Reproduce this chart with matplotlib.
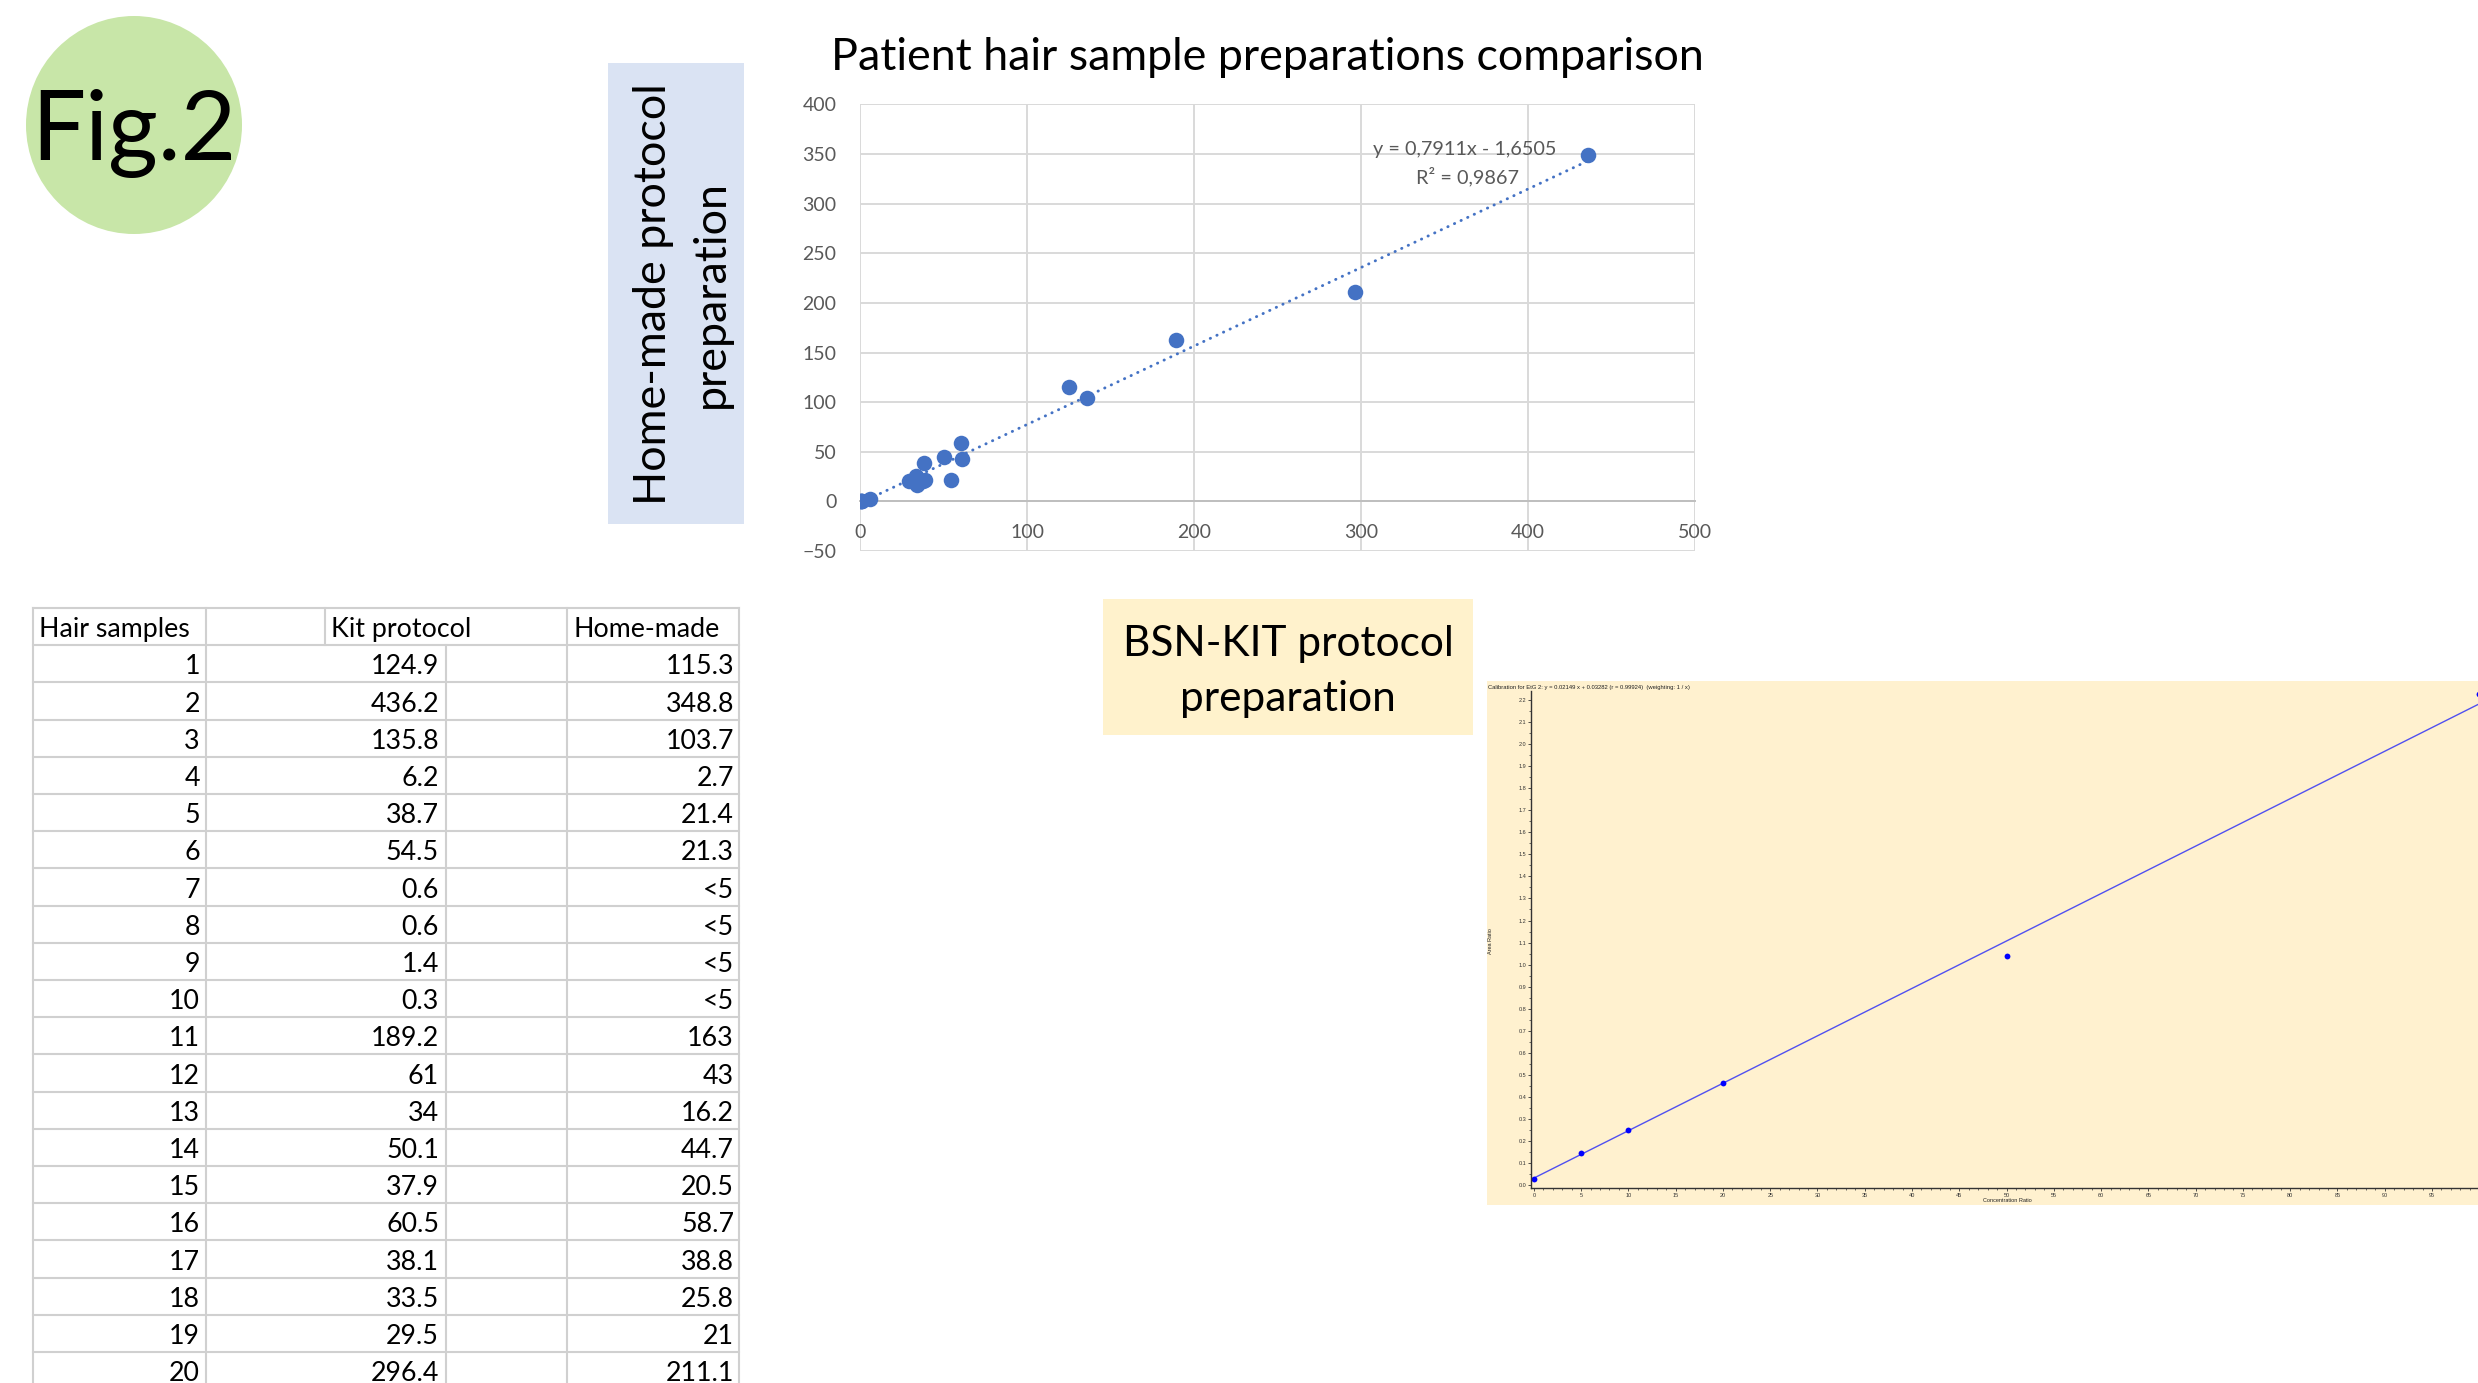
import matplotlib
matplotlib.use("Agg")
import matplotlib.pyplot as plt
import numpy as np
from matplotlib.patches import Ellipse, Rectangle
from matplotlib.ticker import MultipleLocator

plt.rcParams['font.family'] = ['Lato', 'DejaVu Sans']

# --- data -------------------------------------------------------------
sample_ids = list(range(1, 21))
kit_protocol = [124.9, 436.2, 135.8, 6.2, 38.7, 54.5, 0.6, 0.6, 1.4, 0.3,
                189.2, 61, 34, 50.1, 37.9, 60.5, 38.1, 33.5, 29.5, 296.4]
# None = "<5" in the table (plotted as 0, like the spreadsheet does)
home_made = [115.3, 348.8, 103.7, 2.7, 21.4, 21.3, None, None, None, None,
             163, 43, 16.2, 44.7, 20.5, 58.7, 38.8, 25.8, 21, 211.1]
table_headers = ["Hair samples", "Kit protocol", "Home-made"]

trend_slope = 0.7911
trend_intercept = -1.6505
trend_r2 = 0.9867

cal_conc = [0, 5, 10, 20, 50, 100]
cal_ratio = [0.03, 0.145, 0.253, 0.463, 1.04, 2.225]
cal_slope = 0.02149
cal_intercept = 0.03282
cal_r = 0.99924

# --- figure -----------------------------------------------------------
W, H = 2478, 1383
fig = plt.figure(figsize=(W / 100, H / 100), dpi=100)


def px_axes(x0, y0, x1, y1, **kw):
    return fig.add_axes([x0 / W, 1 - y1 / H, (x1 - x0) / W, (y1 - y0) / H], **kw)


# overlay in pixel coords for boxes, table and labels
bg = fig.add_axes([0, 0, 1, 1], zorder=0)
bg.set_xlim(0, W)
bg.set_ylim(H, 0)
bg.axis('off')

# Fig.2 badge
bg.add_patch(Ellipse((134, 125), 216, 218, color='#C8E6A8', lw=0))
bg.text(134, 160, "Fig.2", fontsize=69, ha='center', va='baseline', color='black')

# blue label box
bg.add_patch(Rectangle((608, 63), 136, 461, color='#DAE3F3', lw=0))
bg.text(653, 294, "Home-made protocol", fontsize=32.3, rotation=90, ha='center', va='center')
bg.text(711, 294, "preparation", fontsize=32.3, rotation=90, ha='center', va='center')

# yellow label box
bg.add_patch(Rectangle((1103, 599), 370, 136, color='#FFF2CC', lw=0))
bg.text(1288, 644, "BSN-KIT protocol", fontsize=30.5, ha='center', va='center')
bg.text(1288, 699, "preparation", fontsize=30.5, ha='center', va='center')

# scatter title
bg.text(1267, 57, "Patient hair sample preparations comparison", fontsize=32.2,
        ha='center', va='center')

# --- table -------------------------------------------------------------
tbl_top = 608
row_h = 37.2
line_c = '#D0D0D0'
n_rows = len(sample_ids) + 1
for k in range(n_rows + 1):
    y = tbl_top + k * row_h
    bg.plot([33, 739], [y, y], color=line_c, lw=1.5)
for x in [33, 206, 567, 739]:
    bg.plot([x, x], [tbl_top, H], color=line_c, lw=1.5)
bg.plot([325, 325], [tbl_top, tbl_top + row_h], color=line_c, lw=1.5)
bg.plot([446, 446], [tbl_top + row_h, H], color=line_c, lw=1.5)

yc = tbl_top + row_h / 2 + 3
for x, lab in zip([39, 331, 573], table_headers):
    bg.text(x, yc, lab, fontsize=19.3, ha='left', va='center')
for i, (sid, kv, hv) in enumerate(zip(sample_ids, kit_protocol, home_made)):
    yc = tbl_top + row_h * (i + 1.5) + 3
    bg.text(200, yc, str(sid), fontsize=19.3, ha='right', va='center')
    bg.text(439, yc, f"{kv:g}", fontsize=19.3, ha='right', va='center')
    bg.text(734, yc, "<5" if hv is None else f"{hv:g}", fontsize=19.3, ha='right', va='center')

# --- scatter -----------------------------------------------------------
ax = px_axes(860, 104.5, 1695, 551, zorder=2)
x = np.array(kit_protocol)
y = np.array([0 if v is None else v for v in home_made])
ax.scatter(x, y, s=125, color='#4472C4', zorder=3, lw=0)
xs = np.array([x.min(), x.max()])
ax.plot(xs, trend_slope * xs + trend_intercept, color='#4472C4', lw=2.1,
        linestyle=(0, (0.1, 2.4)), dash_capstyle='round', zorder=2)
ax.set_xlim(0, 500)
ax.set_ylim(-50, 400)
ax.set_xticks(np.arange(0, 501, 100))
ax.set_yticks(np.arange(-50, 401, 50))
ax.grid(True, color='#D9D9D9', lw=1.4)
ax.set_axisbelow(True)
for s in ['top', 'right', 'left']:
    ax.spines[s].set_visible(False)
ax.spines['bottom'].set_position(('data', 0))
ax.spines['bottom'].set_color('#BFBFBF')
ax.spines['bottom'].set_linewidth(1.4)
ax.tick_params(axis='both', length=0, labelsize=14, labelcolor='#595959')
ax.tick_params(axis='x', pad=16)
ax.tick_params(axis='y', pad=17)
ax.text(1465, 149, f"y = {trend_slope:.4f}x - {abs(trend_intercept):.4f}".replace('.', ','),
        transform=bg.transData, fontsize=14.3, color='#595959', ha='center', va='center')
ax.text(1467, 177, f"R² = {trend_r2:.4f}".replace('.', ','),
        transform=bg.transData, fontsize=14.3, color='#595959', ha='center', va='center')

# --- calibration curve -----------------------------------------------------
bg.add_patch(Rectangle((1487, 681), W - 1487, 524, color='#FFF1CF', lw=0))
bg.text(1488, 687,
        f"Calibration for EtG 2: y = {cal_slope} x + {cal_intercept} (r = {cal_r})  (weighting: 1 / x)",
        fontsize=4.2, family=['Liberation Sans', 'DejaVu Sans'], ha='left', va='center', color='#222222')
bg.text(1491, 941, "Area Ratio", fontsize=4, rotation=90,
        family=['Liberation Sans', 'DejaVu Sans'], ha='center', va='center', color='#222222')
bg.text(2007, 1201, "Concentration Ratio", fontsize=4,
        family=['Liberation Sans', 'DejaVu Sans'], ha='center', va='center', color='#222222')

cx = px_axes(1531, 691, 2484, 1188, zorder=2)
cx.set_facecolor('#FFF1CF')
cline = np.array([0, 100])
cx.plot(cline, cal_slope * cline + cal_intercept, color='#5050F0', lw=1.0)
cx.plot(cal_conc, cal_ratio, 'o', color='#0000FF', ms=4.2, mew=0)
cx.set_xlim(-0.3, 100.5)
cx.set_ylim(-0.012, 2.24)
cx.xaxis.set_major_locator(MultipleLocator(5))
cx.xaxis.set_minor_locator(MultipleLocator(1))
cx.yaxis.set_major_locator(MultipleLocator(0.1))
cx.yaxis.set_minor_locator(MultipleLocator(0.05))
cx.set_xticks(np.arange(0, 100, 5))
cx.yaxis.set_major_formatter(matplotlib.ticker.FormatStrFormatter('%.1f'))
for s in ['top', 'right']:
    cx.spines[s].set_visible(False)
for s in ['left', 'bottom']:
    cx.spines[s].set_color('#333333')
    cx.spines[s].set_linewidth(1.0)
cx.tick_params(which='major', length=2.5, width=0.6, labelsize=4, colors='#333333', pad=0.8)
cx.tick_params(which='minor', length=1.3, width=0.5, colors='#333333')
for lab in cx.get_xticklabels() + cx.get_yticklabels():
    lab.set_family(['Liberation Sans', 'DejaVu Sans'])

fig.savefig("out.png", dpi=100)
